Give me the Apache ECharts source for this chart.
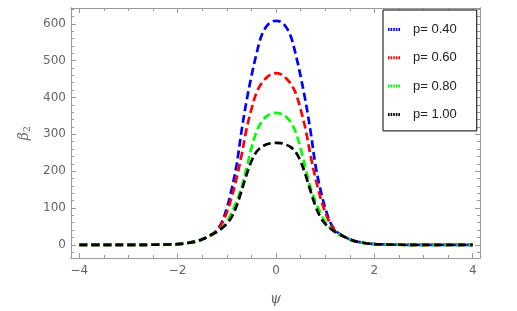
<!DOCTYPE html>
<html><head><meta charset="utf-8">
<script src="https://cdn.jsdelivr.net/npm/echarts@6/dist/echarts.min.js"></script>
<style>html,body{margin:0;padding:0;background:#fff}#c{width:517px;height:311px}</style>
</head><body><div id="c"></div>
<script>
// psi values (x)
const psi = [-4,-3.5,-3,-2.5,-2.2,-2,-1.8,-1.6,-1.5,-1.4,-1.3,-1.2,-1.1,-1,-0.9,-0.8,-0.7,-0.6,-0.5,-0.4,-0.3,-0.2,-0.1,
  0,0.1,0.2,0.3,0.4,0.5,0.6,0.7,0.8,0.9,1,1.1,1.2,1.3,1.4,1.5,1.6,1.8,2,2.2,2.5,3,3.5,4];
// beta_2 values
const p040 = [0,0,0,0.2,0.8,2,5,10,15,21,29,40,62,100,152,218,310,390,458,517,566,592,605,
  608,605,592,566,517,458,390,310,218,152,100,62,40,29,21,15,10,5,2,0.8,0.2,0,0,0];
const p060 = [0,0,0,0.2,0.8,2,5,10,15,21,28,38,58,88,130,182,244,314,368,412,437,453,463,
  466,463,453,437,412,368,314,244,182,130,88,58,38,28,21,15,10,5,2,0.8,0.2,0,0,0];
const p080 = [0,0,0,0.2,0.8,2,5,10,15,21,28,35,46,62,88,118,156,208,262,306,333,348,356,
  358,356,348,333,306,262,208,156,118,88,62,46,35,28,21,15,10,5,2,0.8,0.2,0,0,0];
const p100 = [0,0,0,0.2,0.8,2,5,10,15,21,28,35,45,57,76,106,147,190,227,252,265,272,276,
  277,276,272,265,252,227,190,147,106,76,57,45,35,28,21,15,10,5,2,0.8,0.2,0,0,0];
const seriesNames = ['p= 0.40','p= 0.60','p= 0.80','p= 1.00'];
const seriesColors = ['#0000ff','#ff0000','#00ff00','#000000'];
const xLabels = [-4,-2,0,2,4];
const xMinorTicks = [-4,-3.5,-3,-2.5,-2,-1.5,-1,-0.5,0,0.5,1,1.5,2,2.5,3,3.5,4];
const yLabels = [0,100,200,300,400,500,600];
const yMinorTicks = [-20,0,20,40,60,80,100,120,140,160,180,200,220,240,260,280,300,320,340,360,380,400,420,440,460,480,500,520,540,560,580,600,620,640];

const X_MIN = -4.169, X_MAX = 4.148, Y_MIN = -35.8, Y_MAX = 642.9;
const FRAME = '#999999';
const fmt = v => (v < 0 ? '\u2212' + Math.abs(v) : String(v));
const DOTS = 'path://M0,0h1.6v3h-1.6z M2.6,0h1.6v3h-1.6z M5.2,0h1.6v3h-1.6z M7.8,0h1.6v3h-1.6z M10.4,0h1.6v3h-1.6z';

function xAx(pos, ticks, len, labels, name) {
  return {
    type: 'value', position: pos, min: X_MIN, max: X_MAX,
    name: name || '', nameLocation: 'middle', nameGap: 34,
    nameTextStyle: {fontSize: 14, fontStyle: 'italic', color: '#666', fontFamily: 'DejaVu Serif'},
    axisLine: {show: true, onZero: false, lineStyle: {color: FRAME, width: 1}},
    axisTick: {show: true, inside: true, length: len, customValues: ticks, lineStyle: {color: FRAME}},
    axisLabel: labels ? {show: true, customValues: labels, formatter: fmt, color: '#666', fontSize: 12,
      fontFamily: 'DejaVu Sans', margin: 7} : {show: false},
    splitLine: {show: false}, minorTick: {show: false}
  };
}
function yAx(pos, ticks, len, labels, name) {
  return {
    type: 'value', position: pos, min: Y_MIN, max: Y_MAX,
    name: name || '', nameLocation: 'middle', nameGap: 35,
    nameTextStyle: {color: '#666', rich: {b: {fontSize: 14, fontStyle: 'italic', color: '#666', fontFamily: 'DejaVu Serif'},
      s: {fontSize: 10, color: '#666', fontFamily: 'DejaVu Serif', padding: [6, 0, 0, 0]}}},
    axisLine: {show: true, onZero: false, lineStyle: {color: FRAME, width: 1}},
    axisTick: {show: true, inside: true, length: len, customValues: ticks, lineStyle: {color: FRAME}},
    axisLabel: labels ? {show: true, customValues: labels, color: '#666', fontSize: 12,
      fontFamily: 'DejaVu Sans', margin: 5} : {show: false},
    splitLine: {show: false}, minorTick: {show: false}
  };
}

const dataSets = [p040, p060, p080, p100];
const chart = echarts.init(document.getElementById('c'), null, {renderer: 'canvas'});
chart.setOption({
  animation: false,
  backgroundColor: '#fff',
  grid: {left: 71, right: 37, top: 8, bottom: 49.3, containLabel: false},
  xAxis: [
    xAx('bottom', xLabels, 5, xLabels, '\u03c8'),
    xAx('bottom', xMinorTicks, 3, null),
    xAx('top', xLabels, 5, null),
    xAx('top', xMinorTicks, 3, null)
  ],
  yAxis: [
    yAx('left', yLabels, 5, yLabels, '{b|\u03b2}{s|2}'),
    yAx('left', yMinorTicks, 3, null),
    yAx('right', yLabels, 5, null),
    yAx('right', yMinorTicks, 3, null)
  ],
  legend: {
    orient: 'vertical', left: 383, top: 10,
    data: seriesNames.map(n => ({name: n, icon: DOTS})),
    itemWidth: 12, itemHeight: 3, itemGap: 13.3,
    padding: [12, 20, 9, 5], borderColor: '#000', borderWidth: 1, backgroundColor: '#fff',
    textStyle: {fontSize: 13, lineHeight: 15, color: '#222', fontFamily: 'Liberation Sans', padding: [0, 0, 0, 8]}
  },
  series: dataSets.map((d, i) => ({
    name: seriesNames[i], type: 'line', xAxisIndex: 0, yAxisIndex: 0,
    data: psi.map((x, j) => [x, d[j]]),
    smooth: 0.35, symbol: 'none', z: 2 + i,
    itemStyle: {color: seriesColors[i]},
    lineStyle: {color: seriesColors[i], width: 2.7, type: [8, 4]}
  }))
});
</script></body></html>
